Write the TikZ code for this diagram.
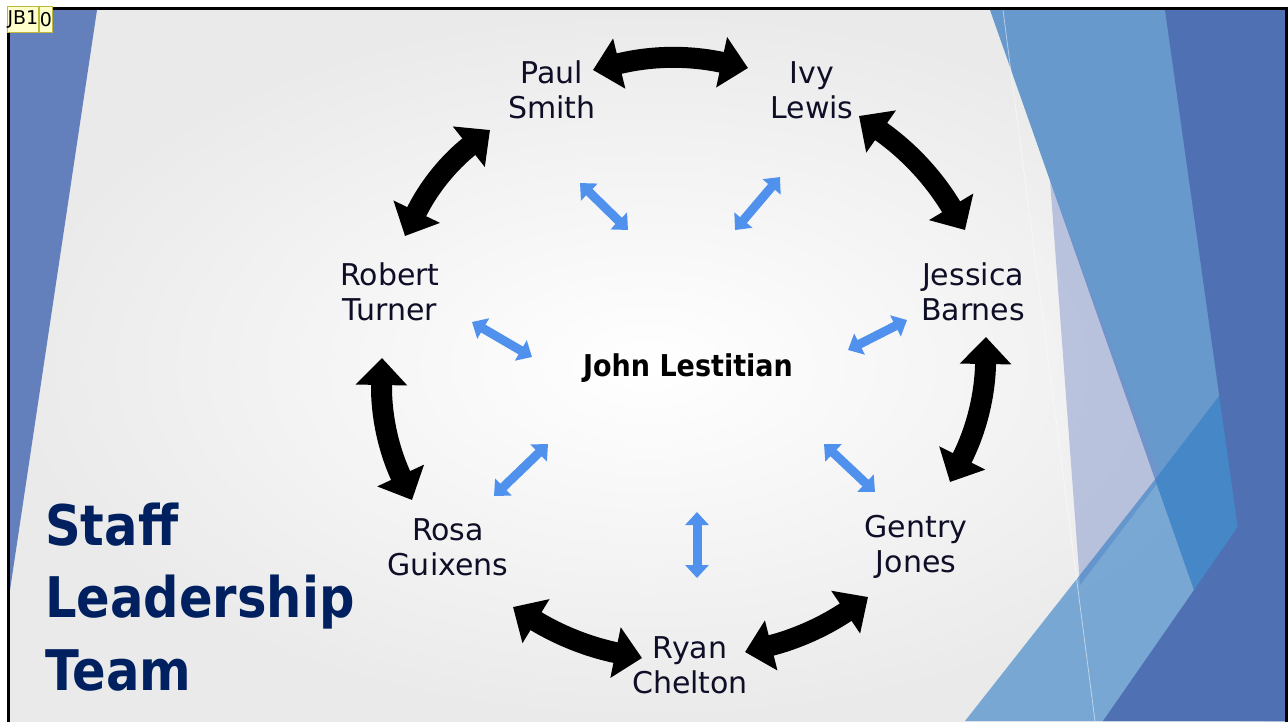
\documentclass[tikz,border=0pt]{standalone}
\usepackage{fontspec}
\setmainfont{DejaVu Sans}
\newfontfamily\titlefont[FakeStretch=0.885]{DejaVu Sans}
\newfontfamily\centerfont[FakeStretch=0.90]{DejaVu Sans}
\usetikzlibrary{arrows.meta}

\definecolor{slidegray}{RGB}{234,234,234}
\definecolor{facetleft}{RGB}{99,128,189}
\definecolor{facetmid}{RGB}{104,153,204}
\definecolor{facetdark}{RGB}{80,112,180}
\definecolor{facetlav}{RGB}{120,140,200}
\definecolor{facetband}{RGB}{46,123,196}
\definecolor{nametext}{RGB}{14,14,38}
\definecolor{titlenavy}{RGB}{0,32,96}
\definecolor{spokeblue}{RGB}{79,145,237}
\definecolor{notefill}{RGB}{255,255,204}
\definecolor{notedraw}{RGB}{190,185,60}

\tikzset{
  person/.style={align=center, font=\fontsize{30}{35}\selectfont, text=nametext, inner sep=2pt},
  titleline/.style={anchor=base west, inner sep=0pt, text=titlenavy,
    font=\titlefont\bfseries\fontsize{56}{72}\selectfont},
  ring/.style={draw=black, line width=21pt,
    {Triangle[width=50pt,length=27pt]}-{Triangle[width=50pt,length=27pt]}},
  spoke/.style={draw=spokeblue, line width=9pt,
    {Triangle[width=23pt,length=13pt]}-{Triangle[width=23pt,length=13pt]}},
  notebox/.style={draw=notedraw, fill=notefill, line width=1.2pt, inner sep=0pt,
    minimum height=26pt, font=\fontsize{19}{21}\selectfont, text=black},
}

\begin{document}
\begin{tikzpicture}[x=1pt,y=-1pt]
\useasboundingbox (0,0) rectangle (1288,721);
\fill[white] (0,0) rectangle (1288,721);

% slide background
\shade[inner color=white, outer color=slidegray] (10,10) rectangle (1285,721);

% facet decoration
\begin{scope}
  \clip (10,10) rectangle (1285,721);
  \fill[facetleft] (10,10) -- (97,10) -- (10,590) -- cycle;
  \fill[facetmid] (990,10) -- (1285,10) -- (1285,721) -- (1240,721) -- cycle;
  \fill[facetlav, opacity=0.45] (1050,180) -- (1160,480) -- (1080,585) -- cycle;
  \fill[facetband, opacity=0.6] (965,721) -- (1157,477) -- (1285,310) -- (1285,721) -- cycle;
  \fill[facetdark] (1165,10) -- (1285,10) -- (1285,721) -- (1265,721) -- cycle;
  \fill[facetdark] (1103,721) -- (1285,459) -- (1285,721) -- cycle;
  \draw[white, opacity=0.5, line width=0.8pt] (1003,10) -- (1095,721);
\end{scope}

% slide frame
\draw[line width=3pt] (8.5,740) -- (8.5,8.5) -- (1286.5,8.5) -- (1286.5,740);

% title
\node[titleline] (t1) at (45,545) {Staff};
\node[titleline] (t2) at (45,617) {Leadership};
\node[titleline] (t3) at (45,690) {Team};

% people
\node[person] (paul)    at (552,90)  {Paul\\Smith};
\node[person] (ivy)     at (812,90)  {Ivy\\Lewis};
\node[person] (jessica) at (973,292) {Jessica\\Barnes};
\node[person] (gentry)  at (916,547) {Gentry\\Jones};
\node[person] (ryan)    at (690,665) {Ryan\\Chelton};
\node[person] (rosa)    at (448,547) {Rosa\\Guixens};
\node[person] (robert)  at (390,292) {Robert\\Turner};
\node[text=black, font=\centerfont\bfseries\fontsize{30}{36}\selectfont] (john) at (688,368) {John Lestitian};

% ring of double arrows
\draw[ring] ([shift={(41,-20)}]paul.center) to[bend left=13] ([shift={(-64,-22)}]ivy.center);
\draw[ring] ([shift={(47,26)}]ivy.center) to[bend left=12] ([shift={(-8,-62)}]jessica.center);
\draw[ring] ([shift={(13,45)}]jessica.center) to[bend left=13] ([shift={(34,-65)}]gentry.center);
\draw[ring] ([shift={(-48,50)}]gentry.center) to[bend left=10] ([shift={(55,-13)}]ryan.center);
\draw[ring] ([shift={(-48,-7)}]ryan.center) to[bend left=10] ([shift={(65,60)}]rosa.center);
\draw[ring] ([shift={(-36,-47)}]rosa.center) to[bend left=13] ([shift={(-8,66)}]robert.center);
\draw[ring] ([shift={(15,-56)}]robert.center) to[bend left=13] ([shift={(-62,40)}]paul.center);

% spokes around the centre
\coordinate (s1a) at (580,183); \coordinate (s1b) at (628,230);
\coordinate (s2a) at (735,230); \coordinate (s2b) at (780,177);
\coordinate (s3a) at (472,322); \coordinate (s3b) at (532,357);
\coordinate (s4a) at (848,350); \coordinate (s4b) at (907,320);
\coordinate (s5a) at (494,496); \coordinate (s5b) at (548,444);
\coordinate (s6a) at (824,444); \coordinate (s6b) at (875,492);
\coordinate (s7a) at (697,512); \coordinate (s7b) at (697,578);
\foreach \s in {1,...,7} { \draw[spoke] (s\s a) -- (s\s b); }

% comment marker
\node[notebox, minimum width=29pt, anchor=north west] (note1) at (7,6) {JB1};
\node[notebox, minimum width=13pt, anchor=north west] (note2) at (note1.north east) {0};
\end{tikzpicture}
\end{document}
